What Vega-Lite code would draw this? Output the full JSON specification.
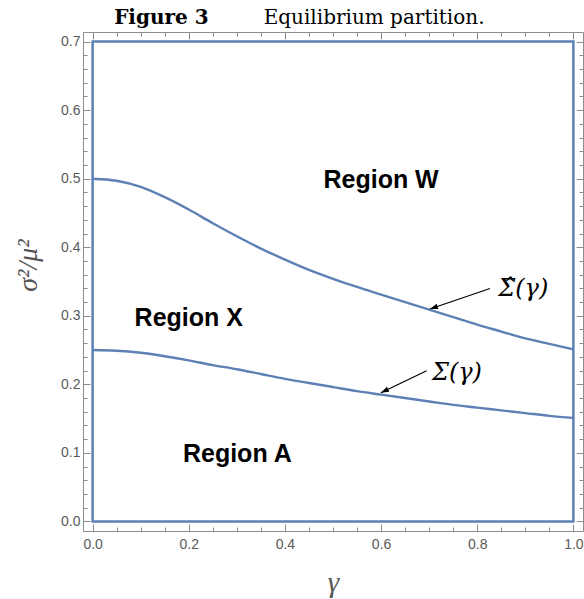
{
  "$schema": "https://vega.github.io/schema/vega-lite/v6.json",
  "width": 500,
  "height": 499,
  "autosize": {"type": "none"},
  "padding": {"left": 83, "top": 32, "right": 1, "bottom": 68},
  "background": "white",
  "config": {
    "view": {"stroke": "#8c8c8c", "strokeWidth": 1},
    "axis": {"grid": false, "domain": false, "tickColor": "#8c8c8c", "tickWidth": 1, "labelFont": "Liberation Sans", "labelFontSize": 14, "labelColor": "#5a5a5a", "labelFlush": false}
  },
  "datasets": {
    "curves": [
      {"gamma": 0.0, "sigma_hat": 0.500, "sigma": 0.250},
      {"gamma": 0.05, "sigma_hat": 0.497, "sigma": 0.249},
      {"gamma": 0.1, "sigma_hat": 0.488, "sigma": 0.246},
      {"gamma": 0.15, "sigma_hat": 0.473, "sigma": 0.241},
      {"gamma": 0.2, "sigma_hat": 0.455, "sigma": 0.235},
      {"gamma": 0.25, "sigma_hat": 0.435, "sigma": 0.228},
      {"gamma": 0.3, "sigma_hat": 0.416, "sigma": 0.222},
      {"gamma": 0.35, "sigma_hat": 0.398, "sigma": 0.215},
      {"gamma": 0.4, "sigma_hat": 0.382, "sigma": 0.208},
      {"gamma": 0.45, "sigma_hat": 0.367, "sigma": 0.202},
      {"gamma": 0.5, "sigma_hat": 0.354, "sigma": 0.196},
      {"gamma": 0.55, "sigma_hat": 0.342, "sigma": 0.190},
      {"gamma": 0.6, "sigma_hat": 0.331, "sigma": 0.185},
      {"gamma": 0.65, "sigma_hat": 0.320, "sigma": 0.180},
      {"gamma": 0.7, "sigma_hat": 0.309, "sigma": 0.175},
      {"gamma": 0.75, "sigma_hat": 0.298, "sigma": 0.170},
      {"gamma": 0.8, "sigma_hat": 0.287, "sigma": 0.166},
      {"gamma": 0.85, "sigma_hat": 0.277, "sigma": 0.162},
      {"gamma": 0.9, "sigma_hat": 0.267, "sigma": 0.158},
      {"gamma": 0.95, "sigma_hat": 0.259, "sigma": 0.154},
      {"gamma": 1.0, "sigma_hat": 0.251, "sigma": 0.151}
    ],
    "frame": [{"x0": 0, "x1": 1, "y0": 0, "y1": 0.7}],
    "regions": [
      {"label": "Region W", "x": 0.6, "y": 0.487},
      {"label": "Region X", "x": 0.2, "y": 0.2854},
      {"label": "Region A", "x": 0.301, "y": 0.086}
    ],
    "annotations": [
      {"id": "hat", "label": "Σ̂(γ)", "tx": 0.8438, "ty": 0.3292, "ax": 0.8266, "ay": 0.3398, "hx": 0.7016, "hy": 0.3098},
      {"id": "plain", "label": "Σ(γ)", "tx": 0.7058, "ty": 0.2062, "ax": 0.6948, "ay": 0.2198, "hx": 0.5996, "hy": 0.1877}
    ],
    "titles": [
      {"part": "bold", "text": "Figure 3", "x": 0.143, "y": 0.7258},
      {"part": "regular", "text": "Equilibrium partition.", "x": 0.5855, "y": 0.7258}
    ]
  },
  "layer": [
    {
      "data": {"name": "curves"},
      "transform": [{"fold": ["sigma_hat", "sigma"], "as": ["curve", "value"]}],
      "mark": {"type": "line", "color": "#5E81B5", "strokeWidth": 2.4, "interpolate": "monotone"},
      "encoding": {
        "x": {"field": "gamma", "type": "quantitative", "scale": {"domain": [-0.02, 1.02], "nice": false, "zero": false},
          "axis": {"orient": "bottom", "values": [0, 0.2, 0.4, 0.6, 0.8, 1], "format": ".1f", "ticks": false, "labelPadding": 6,
            "title": "γ", "titleFont": "Liberation Serif", "titleFontStyle": "italic", "titleFontWeight": "normal", "titleFontSize": 29, "titleColor": "#555555", "titleBaseline": "alphabetic", "titleY": 60}},
        "y": {"field": "value", "type": "quantitative", "scale": {"domain": [-0.014, 0.714], "nice": false, "zero": false},
          "axis": {"orient": "left", "values": [0, 0.1, 0.2, 0.3, 0.4, 0.5, 0.6, 0.7], "format": ".1f", "ticks": false, "labelPadding": 3,
            "title": "σ²/μ²", "titleFont": "Liberation Serif", "titleFontStyle": "italic", "titleFontWeight": "normal", "titleFontSize": 28, "titleColor": "#555555", "titleBaseline": "alphabetic", "titleAlign": "center", "titleAngle": -90, "titleX": -47, "titleY": 233}},
        "detail": {"field": "curve"}
      }
    },
    {
      "data": {"name": "frame"},
      "mark": {"type": "rect", "filled": false, "color": "#5E81B5", "strokeWidth": 2.5},
      "encoding": {
        "x": {"field": "x0", "type": "quantitative", "scale": {"domain": [-0.02, 1.02], "nice": false, "zero": false},
          "axis": {"orient": "bottom", "values": [0, 0.2, 0.4, 0.6, 0.8, 1], "labels": false, "tickSize": -7, "title": null}},
        "x2": {"field": "x1"},
        "y": {"field": "y0", "type": "quantitative", "scale": {"domain": [-0.014, 0.714], "nice": false, "zero": false},
          "axis": {"orient": "left", "values": [0, 0.1, 0.2, 0.3, 0.4, 0.5, 0.6, 0.7], "labels": false, "tickSize": -7, "title": null}},
        "y2": {"field": "y1"}
      }
    },
    {
      "data": {"name": "regions"},
      "mark": {"type": "text", "font": "Liberation Sans", "fontWeight": "bold", "fontSize": 25, "align": "center", "baseline": "alphabetic", "color": "black"},
      "encoding": {
        "x": {"field": "x", "type": "quantitative", "scale": {"domain": [-0.02, 1.02], "nice": false, "zero": false},
          "axis": {"orient": "bottom", "values": [0.05, 0.1, 0.15, 0.25, 0.3, 0.35, 0.45, 0.5, 0.55, 0.65, 0.7, 0.75, 0.85, 0.9, 0.95], "labels": false, "tickSize": -4, "title": null}},
        "y": {"field": "y", "type": "quantitative", "scale": {"domain": [-0.014, 0.714], "nice": false, "zero": false},
          "axis": {"orient": "left", "values": [0.02, 0.04, 0.06, 0.08, 0.12, 0.14, 0.16, 0.18, 0.22, 0.24, 0.26, 0.28, 0.32, 0.34, 0.36, 0.38, 0.42, 0.44, 0.46, 0.48, 0.52, 0.54, 0.56, 0.58, 0.62, 0.64, 0.66, 0.68], "labels": false, "tickSize": -4, "title": null}},
        "text": {"field": "label"}
      }
    },
    {
      "data": {"name": "annotations"},
      "mark": {"type": "rule", "color": "black", "strokeWidth": 1.2},
      "encoding": {
        "x": {"field": "ax", "type": "quantitative", "scale": {"domain": [-0.02, 1.02], "nice": false, "zero": false},
          "axis": {"orient": "top", "values": [0, 0.2, 0.4, 0.6, 0.8, 1], "labels": false, "tickSize": -7, "title": null}},
        "x2": {"field": "hx"},
        "y": {"field": "ay", "type": "quantitative", "scale": {"domain": [-0.014, 0.714], "nice": false, "zero": false},
          "axis": {"orient": "right", "values": [0, 0.1, 0.2, 0.3, 0.4, 0.5, 0.6, 0.7], "labels": false, "tickSize": -7, "title": null}},
        "y2": {"field": "hy"}
      }
    },
    {
      "data": {"name": "annotations"},
      "transform": [{"filter": "datum.id === 'hat'"}],
      "mark": {"type": "point", "filled": true, "color": "black", "opacity": 1, "size": 100, "shape": "M0,0L-1.6,-0.55L-1.6,0.55Z", "angle": 161.05},
      "encoding": {
        "x": {"field": "hx", "type": "quantitative", "scale": {"domain": [-0.02, 1.02], "nice": false, "zero": false},
          "axis": {"orient": "top", "values": [0.05, 0.1, 0.15, 0.25, 0.3, 0.35, 0.45, 0.5, 0.55, 0.65, 0.7, 0.75, 0.85, 0.9, 0.95], "labels": false, "tickSize": -4, "title": null}},
        "y": {"field": "hy", "type": "quantitative", "scale": {"domain": [-0.014, 0.714], "nice": false, "zero": false},
          "axis": {"orient": "right", "values": [0.02, 0.04, 0.06, 0.08, 0.12, 0.14, 0.16, 0.18, 0.22, 0.24, 0.26, 0.28, 0.32, 0.34, 0.36, 0.38, 0.42, 0.44, 0.46, 0.48, 0.52, 0.54, 0.56, 0.58, 0.62, 0.64, 0.66, 0.68], "labels": false, "tickSize": -4, "title": null}}
      }
    },
    {
      "data": {"name": "annotations"},
      "transform": [{"filter": "datum.id === 'plain'"}],
      "mark": {"type": "point", "filled": true, "color": "black", "opacity": 1, "size": 100, "shape": "M0,0L-1.6,-0.55L-1.6,0.55Z", "angle": 154.3},
      "encoding": {
        "x": {"field": "hx", "type": "quantitative", "scale": {"domain": [-0.02, 1.02], "nice": false, "zero": false}, "axis": null},
        "y": {"field": "hy", "type": "quantitative", "scale": {"domain": [-0.014, 0.714], "nice": false, "zero": false}, "axis": null}
      }
    },
    {
      "data": {"name": "annotations"},
      "mark": {"type": "text", "font": "DejaVu Serif", "fontStyle": "italic", "fontSize": 24, "align": "left", "baseline": "alphabetic", "color": "black"},
      "encoding": {
        "x": {"field": "tx", "type": "quantitative", "scale": {"domain": [-0.02, 1.02], "nice": false, "zero": false}, "axis": null},
        "y": {"field": "ty", "type": "quantitative", "scale": {"domain": [-0.014, 0.714], "nice": false, "zero": false}, "axis": null},
        "text": {"field": "label"}
      }
    },
    {
      "data": {"name": "titles"},
      "transform": [{"filter": "datum.part === 'bold'"}],
      "mark": {"type": "text", "font": "DejaVu Serif", "fontWeight": "bold", "fontSize": 20, "align": "center", "baseline": "alphabetic", "color": "black"},
      "encoding": {
        "x": {"field": "x", "type": "quantitative", "scale": {"domain": [-0.02, 1.02], "nice": false, "zero": false}, "axis": null},
        "y": {"field": "y", "type": "quantitative", "scale": {"domain": [-0.014, 0.714], "nice": false, "zero": false}, "axis": null},
        "text": {"field": "text"}
      }
    },
    {
      "data": {"name": "titles"},
      "transform": [{"filter": "datum.part === 'regular'"}],
      "mark": {"type": "text", "font": "DejaVu Serif", "fontWeight": "normal", "fontSize": 20, "align": "center", "baseline": "alphabetic", "color": "black"},
      "encoding": {
        "x": {"field": "x", "type": "quantitative", "scale": {"domain": [-0.02, 1.02], "nice": false, "zero": false}, "axis": null},
        "y": {"field": "y", "type": "quantitative", "scale": {"domain": [-0.014, 0.714], "nice": false, "zero": false}, "axis": null},
        "text": {"field": "text"}
      }
    }
  ],
  "resolve": {"axis": {"x": "independent", "y": "independent"}}
}
